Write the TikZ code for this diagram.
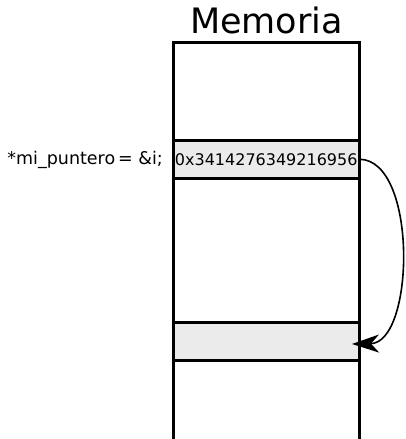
\documentclass[tikz,border=0pt]{standalone}
\usepackage{fontspec}
\setmainfont{DejaVu Sans}
\usetikzlibrary{arrows.meta}
\definecolor{cellgray}{HTML}{EBEBEB}
\begin{document}
\begin{tikzpicture}[x=1pt,y=-1pt,
  wall/.style={line width=3pt,line join=miter},
  cell/.style={draw=black,line width=3pt,fill=cellgray,minimum width=186.5pt,minimum height=38.5pt,inner sep=0pt,outer sep=0pt,anchor=north west},
  ptr/.style={line width=1.6pt,-{Stealth[length=27pt,width=18pt,inset=8pt]}}]
\useasboundingbox (0,0) rectangle (405,439);
\node[font=\fontsize{35}{35}\selectfont,anchor=base] (title) at (266.5,33) {Memoria};
\draw[wall] (173,445) -- (173,42) -- (359.5,42) -- (359.5,445);
\node[cell] (c1) at (173,140) {};
\node[cell] (c2) at (173,322) {};
\node[font=\fontsize{16}{16}\selectfont] (hex) at (c1.center) {0x3414276349216956};
\node[font=\fontsize{17.5}{18}\selectfont,anchor=east,inner sep=0pt] (lbl) at (163,159.5) {*mi\_puntero\,= \&i;};
\coordinate (tip) at (352,344);
\draw[ptr] (c1.east) .. controls (418,160) and (415,343) .. (tip);
\end{tikzpicture}
\end{document}
